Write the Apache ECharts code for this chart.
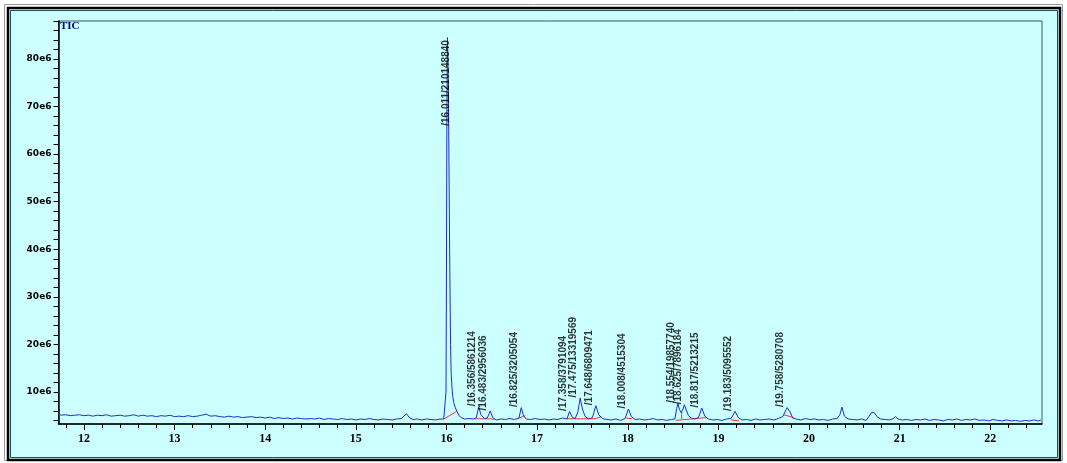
<!DOCTYPE html>
<html><head><meta charset="utf-8">
<script src="https://cdn.jsdelivr.net/npm/echarts@6/dist/echarts.min.js"></script>
<style>html,body{margin:0;padding:0;background:#fff}#c{width:1067px;height:463px}</style>
</head><body><div id="c"></div>
<script>
// TIC trace: retention time (min) and intensity (units of 1e6)
const times = [11.72,11.75,11.80,11.85,11.90,11.95,12.00,12.05,12.10,12.15,12.20,12.25,12.30,12.35,12.40,12.45,12.50,12.55,12.60,12.65,12.70,12.75,12.80,12.85,12.90,12.95,13.00,13.05,13.10,13.15,13.20,13.25,13.30,13.35,13.40,13.45,13.50,13.55,13.60,13.65,13.70,13.75,13.80,13.85,13.90,13.95,14.00,14.05,14.10,14.15,14.20,14.25,14.30,14.35,14.40,14.45,14.50,14.55,14.60,14.65,14.70,14.75,14.80,14.85,14.90,14.95,15.00,15.05,15.10,15.15,15.20,15.25,15.30,15.35,15.40,15.45,15.50,15.53,15.56,15.59,15.63,15.68,15.73,15.78,15.83,15.88,15.93,15.97,15.995,16.000,16.005,16.011,16.017,16.025,16.035,16.045,16.052,16.06,16.07,16.08,16.095,16.115,16.14,16.17,16.20,16.25,16.30,16.33,16.356,16.38,16.42,16.45,16.483,16.51,16.55,16.60,16.65,16.70,16.75,16.80,16.825,16.85,16.88,16.93,16.98,17.03,17.08,17.13,17.18,17.23,17.28,17.33,17.358,17.39,17.42,17.45,17.475,17.50,17.53,17.57,17.61,17.648,17.68,17.72,17.77,17.82,17.87,17.92,17.97,18.008,18.04,18.08,18.13,18.18,18.23,18.28,18.33,18.38,18.43,18.48,18.52,18.54,18.554,18.57,18.59,18.61,18.625,18.645,18.67,18.70,18.74,18.78,18.817,18.85,18.89,18.94,18.99,19.04,19.09,19.14,19.183,19.22,19.26,19.31,19.36,19.41,19.46,19.51,19.56,19.61,19.66,19.71,19.758,19.79,19.82,19.86,19.91,19.96,20.01,20.06,20.11,20.16,20.21,20.26,20.31,20.34,20.363,20.39,20.43,20.48,20.53,20.58,20.63,20.66,20.69,20.72,20.75,20.79,20.84,20.89,20.93,20.955,20.98,21.03,21.08,21.13,21.18,21.23,21.28,21.33,21.38,21.43,21.48,21.53,21.58,21.63,21.68,21.73,21.78,21.83,21.88,21.93,21.98,22.03,22.08,22.13,22.18,22.23,22.28,22.33,22.38,22.43,22.48,22.53,22.56];
const tic = [5.3,5.1,5.2,5.0,5.1,5.2,5.0,5.1,4.9,5.1,5.0,5.2,4.9,5.0,5.1,4.9,5.0,5.2,4.9,5.1,4.9,5.0,4.8,5.0,4.9,5.1,4.8,4.9,4.8,5.0,4.8,4.9,5.1,5.3,4.9,5.0,4.8,4.7,4.9,4.7,4.8,4.6,4.7,4.8,4.6,4.7,4.5,4.7,4.4,4.6,4.4,4.5,4.3,4.5,4.4,4.3,4.4,4.3,4.5,4.2,4.4,4.3,4.2,4.4,4.2,4.3,4.1,4.3,4.2,4.4,4.2,4.1,4.3,4.2,4.1,4.3,4.4,4.9,5.4,4.6,4.2,4.3,4.1,4.3,4.2,4.1,4.3,4.3,10,35,70,84.5,80,65,40,20,14,11,9,7.8,6.8,5.9,5.0,4.5,4.3,4.4,4.3,4.6,6.9,5.2,4.4,4.5,6.0,4.6,4.1,4.3,4.2,4.4,4.2,4.5,6.7,5.0,4.3,4.2,4.4,4.2,4.3,4.1,4.3,4.2,4.5,4.3,5.9,4.6,4.4,5.8,8.7,6.4,4.8,4.3,4.6,7.1,5.2,4.4,4.2,4.1,4.3,4.0,4.4,6.4,4.8,4.2,4.3,4.1,4.2,4.4,4.1,4.2,4.0,4.2,4.3,6.5,7.6,6.3,5.6,6.4,7.3,6.2,5.0,4.5,4.3,4.6,6.6,4.9,4.3,4.1,4.2,4.0,4.3,4.4,5.9,4.6,4.1,4.2,4.0,4.3,4.1,4.2,4.3,4.1,4.4,4.8,6.7,5.8,4.5,4.3,4.1,4.4,4.2,4.3,4.1,4.2,4.0,4.3,4.4,5.2,6.8,4.9,4.3,4.2,4.1,4.3,4.0,4.8,5.7,5.6,4.8,4.3,4.2,4.1,4.4,4.8,4.3,4.1,4.2,4.0,4.2,4.1,4.3,4.0,4.2,4.1,3.9,4.2,4.1,4.3,4.0,4.2,4.1,4.3,4.0,4.1,3.9,4.2,4.0,3.9,4.1,3.9,4.0,3.8,4.0,3.9,4.1,3.9,4.1];

// Integrated peaks: apex time, apex height (1e6), annotation
const peakTimes = [16.011,16.356,16.483,16.825,17.358,17.475,17.648,18.008,18.554,18.625,18.817,19.183,19.758];
const peakHeights = [84.5,6.9,6.0,6.7,5.9,8.7,7.1,6.4,7.6,7.3,6.6,5.9,6.7];
const peakLabels = ['/16.011/210148840','/16.356/5861214','/16.483/2956036','/16.825/3205054','/17.358/3791094','/17.475/13319569','/17.648/6809471','/18.008/4515304','/18.554/19857740','/18.625/7896184','/18.817/5213215','/19.183/5095552','/19.758/5280708'];

// Integration baselines (red): start and end points [time, 1e6]
const baseStart = [[15.97,4.3],[16.31,4.35],[16.485,4.35],[16.78,4.35],[17.33,4.35],[17.64,4.35],[17.98,4.5],[18.53,4.0],[18.595,4.3],[19.14,4.1],[19.72,5.2]];
const baseEnd   = [[16.115,5.9],[16.485,4.35],[16.53,4.2],[16.87,5.0],[17.64,4.35],[17.71,4.8],[18.05,4.35],[18.86,4.6],[18.595,5.8],[19.23,3.9],[19.83,4.6]];

const xLabelValues = [12,13,14,15,16,17,18,19,20,21,22];
const xMinorTicks = [11.8,12.2,12.4,12.6,12.8,13.2,13.4,13.6,13.8,14.2,14.4,14.6,14.8,15.2,15.4,15.6,15.8,16.2,16.4,16.6,16.8,17.2,17.4,17.6,17.8,18.2,18.4,18.6,18.8,19.2,19.4,19.6,19.8,20.2,20.4,20.6,20.8,21.2,21.4,21.6,21.8,22.2,22.4];
const yLabelValues = [10,20,30,40,50,60,70,80];
const yTicks = [4,6,8,10,12,14,16,18,20,22,24,26,28,30,32,34,36,38,40,42,44,46,48,50,52,54,56,58,60,62,64,66,68,70,72,74,76,78,80,82,84,86,88];

const trace = times.map((t, i) => [t, tic[i]]);
const chart = echarts.init(document.getElementById('c'), null, {renderer: 'canvas'});

const baseSeries = baseStart.map((s, i) => ({
  type: 'line', xAxisIndex: 0, yAxisIndex: 0, data: [s, baseEnd[i]],
  showSymbol: false, silent: true, z: 3,
  lineStyle: {color: '#ff3030', width: 1}
}));

chart.setOption({
  animation: false,
  backgroundColor: '#ffffff',
  graphic: [
    {type: 'rect', z: -10, shape: {x: 4.5, y: 4.5, width: 1058, height: 456}, style: {fill: null, stroke: '#9a9a9a', lineWidth: 1}},
    {type: 'rect', z: -9, shape: {x: 8, y: 8, width: 1052, height: 452}, style: {fill: '#ccffff', stroke: '#000000', lineWidth: 2.5}},
    {type: 'rect', z: -8, shape: {x: 10.5, y: 10.5, width: 1047, height: 447}, style: {fill: null, stroke: '#1d4f4f', lineWidth: 1}},
    {type: 'text', z: 10, left: 60, top: 21, style: {text: 'TIC', fill: '#000080', font: 'bold 11px "Liberation Serif"'}}
  ],
  grid: {left: 58.5, right: 25, top: 21, bottom: 39, show: true, borderColor: '#3a5a5a', borderWidth: 1, backgroundColor: 'transparent'},
  xAxis: [{
    type: 'value', min: 11.72, max: 22.57,
    axisLine: {show: true, onZero: false, lineStyle: {color: '#000', width: 1.5}},
    axisTick: {show: true, customValues: xMinorTicks, length: 4, lineStyle: {color: '#000'}},
    axisLabel: {show: true, customValues: xLabelValues, margin: 9, color: '#000', fontFamily: 'Liberation Serif', fontWeight: 'bold', fontSize: 12},
    splitLine: {show: false}
  }, {
    type: 'value', min: 11.72, max: 22.57, position: 'bottom', offset: 0,
    axisLine: {show: false},
    axisTick: {show: true, customValues: xLabelValues, length: 6, lineStyle: {color: '#000'}},
    axisLabel: {show: false},
    splitLine: {show: false}
  }],
  yAxis: {
    type: 'value', min: 3.25, max: 88,
    axisLine: {show: true, onZero: false, lineStyle: {color: '#000', width: 1.5}},
    axisTick: {show: true, customValues: yTicks, length: 5, lineStyle: {color: '#000'}},
    axisLabel: {show: true, customValues: yLabelValues, margin: 7, color: '#000', fontFamily: 'DejaVu Sans', fontWeight: 'bold', fontSize: 9, formatter: v => v + 'e6'},
    splitLine: {show: false}
  },
  series: [{
    type: 'line', data: trace, showSymbol: false, z: 4,
    lineStyle: {color: '#1f2fc4', width: 1}
  }, ...baseSeries, {
    type: 'scatter', z: 5, symbolSize: 1, itemStyle: {color: 'rgba(0,0,0,0)'},
    data: peakTimes.map((t, i) => ({value: [t, peakHeights[i]], label: i === 0 ? {align: 'right', offset: [-3, 4]} : undefined})),
    label: {
      show: true, rotate: 90, position: [0, 0], align: 'left', verticalAlign: 'bottom',
      offset: [0, -1], distance: 0,
      color: '#000', fontFamily: 'Liberation Sans', fontSize: 10, fontWeight: 'bold',
      formatter: p => peakLabels[p.dataIndex]
    }
  }]
});
</script>
</body></html>
